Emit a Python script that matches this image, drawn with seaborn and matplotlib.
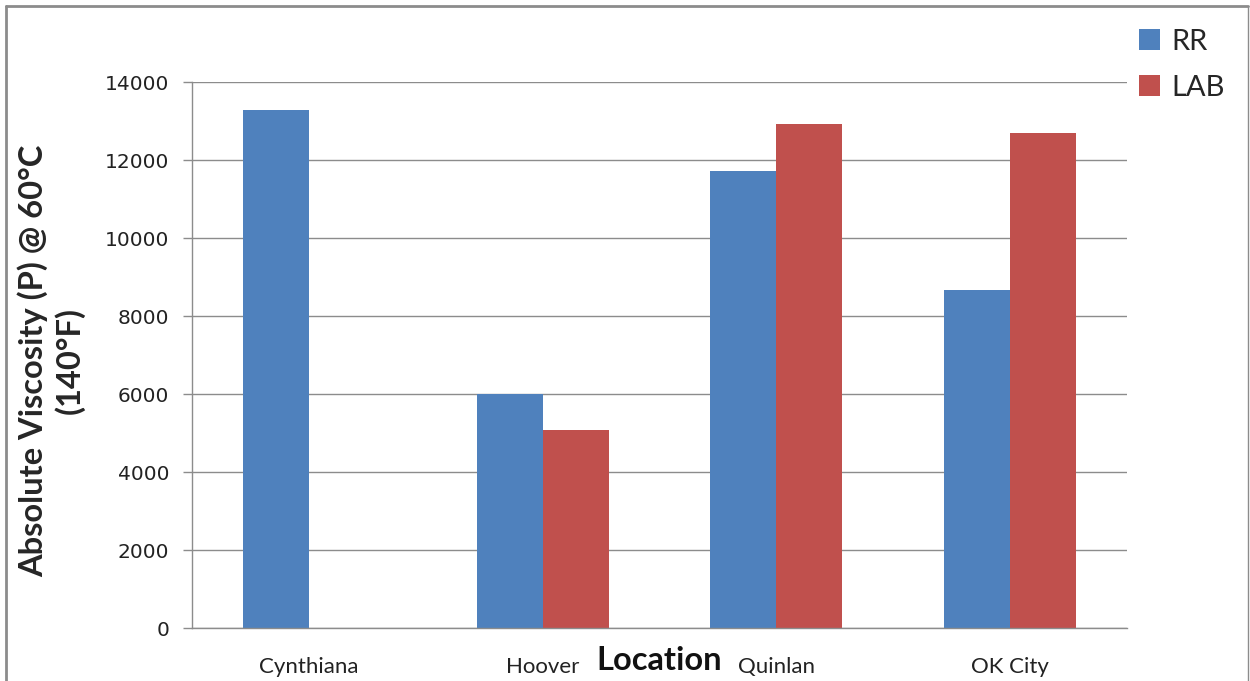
import matplotlib
matplotlib.use("Agg")
import matplotlib.pyplot as plt
import seaborn as sns
import pandas as pd
import numpy as np
from matplotlib.lines import Line2D
from matplotlib.patches import Patch

locations = ["Cynthiana", "Hoover", "Quinlan", "OK City"]
rr_values = [13270, 6000, 11720, 8660]
lab_values = [np.nan, 5080, 12930, 12700]
series_names = ["RR", "LAB"]
y_ticks = [0, 2000, 4000, 6000, 8000, 10000, 12000, 14000]

df = pd.DataFrame({
    "Location": locations * 2,
    "Series": ["RR"] * 4 + ["LAB"] * 4,
    "Value": rr_values + lab_values,
})

sns.set_style("white")
plt.rcParams["font.family"] = ["Lato", "DejaVu Sans"]

colors = {"RR": "#4F81BD", "LAB": "#C0504D"}

fig = plt.figure(figsize=(12.5, 6.81), dpi=100)
ax = fig.add_axes([192/1250, 53/681, 935/1250, 546/681])

sns.barplot(data=df, x="Location", y="Value", hue="Series", order=locations,
            hue_order=series_names, palette=colors, width=0.565, ax=ax,
            legend=False, saturation=1, edgecolor="none", linewidth=0, errorbar=None)

ax.set_xlim(-0.5, 3.5)
ax.set_ylim(0, 14000)
ax.set_yticks(y_ticks)
ax.set_yticklabels([str(v) for v in y_ticks], fontsize=14.5, family="DejaVu Sans", color="#222222")
ax.yaxis.grid(True, color="#8c8c8c", linewidth=1)
ax.set_axisbelow(True)

ax.set_xticklabels(locations, fontsize=16, color="#222222")
ax.tick_params(axis="x", length=0, pad=21)
ax.tick_params(axis="y", length=6.5, width=1, color="#8c8c8c", pad=10, left=True)

for s in ["top", "right"]:
    ax.spines[s].set_visible(False)
for s in ["left", "bottom"]:
    ax.spines[s].set_color("#8c8c8c")
    ax.spines[s].set_linewidth(1)

ax.set_ylabel("Absolute Viscosity (P) @ 60°C\n(140°F)", fontsize=23.5, fontweight="bold",
              linespacing=1.22)
ax.yaxis.set_label_coords(-0.1145, 0.49)
ax.set_xlabel("Location", fontsize=23.5, fontweight="bold", color="#111111")
ax.xaxis.set_label_coords(0.5, -0.033)

handles = [Patch(facecolor=colors[s], edgecolor="none") for s in series_names]
fig.legend(handles, series_names, loc="upper left", bbox_to_anchor=(1127/1250, 1 - 17/681),
           frameon=False, fontsize=21, handlelength=0.72, handleheight=0.72,
           handletextpad=0.4, labelspacing=0.68, borderaxespad=0)

# outer chart border
bc = "#8c8c8c"
fig.add_artist(Line2D([6/1250, 1248/1250], [1 - 6/681, 1 - 6/681], color=bc, lw=2, transform=fig.transFigure))
fig.add_artist(Line2D([6/1250, 6/1250], [0, 1 - 6/681], color=bc, lw=2, transform=fig.transFigure))
fig.add_artist(Line2D([1248/1250, 1248/1250], [0, 1 - 6/681], color=bc, lw=1, transform=fig.transFigure))

fig.savefig("out.png", dpi=100, facecolor="white")
